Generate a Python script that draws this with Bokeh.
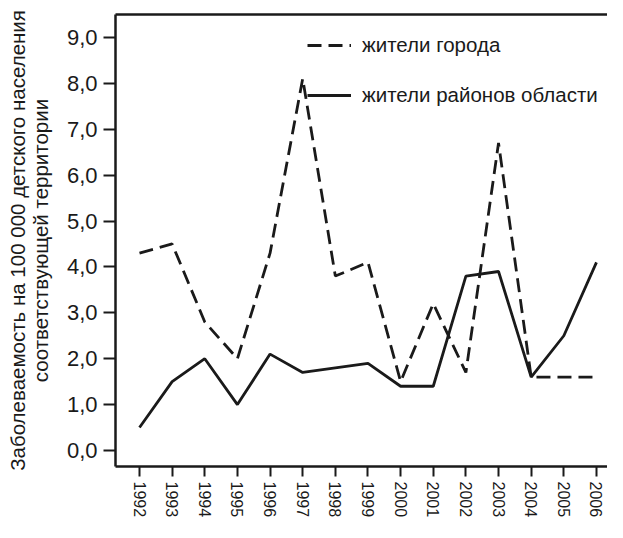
from bokeh.plotting import figure
from bokeh.models import Range1d, FixedTicker, LinearAxis, Legend, LegendItem
from bokeh.embed import file_html
from bokeh.resources import INLINE

years = [1992, 1993, 1994, 1995, 1996, 1997, 1998, 1999, 2000, 2001, 2002, 2003, 2004, 2005, 2006]
city = [4.3, 4.5, 2.8, 2.0, 4.3, 8.1, 3.8, 4.1, 1.5, 3.2, 1.7, 6.7, 1.6, 1.6, 1.6]
rural = [0.5, 1.5, 2.0, 1.0, 2.1, 1.7, 1.8, 1.9, 1.4, 1.4, 3.8, 3.9, 1.6, 2.5, 4.1]
y_ticks = [0, 1, 2, 3, 4, 5, 6, 7, 8, 9]
y_tick_labels = ["0,0", "1,0", "2,0", "3,0", "4,0", "5,0", "6,0", "7,0", "8,0", "9,0"]
series_names = ["жители города", "жители районов области"]
y_title = "Заболеваемость на 100 000 детского населения\nсоответствующей территории"

FONT = "Liberation Sans"
INK = "#1a1a1a"

# layout (pixels)
W, H = 607, 522
FL, FT, FB = 115, 14, 466          # frame left / top / bottom
PX_PER_YEAR = 32.64
PX_PER_UNIT = 45.9
X0_PX = 139                         # pixel of the first year
Y0_PX = 450                         # pixel of value 0

x_start = years[0] - (X0_PX - FL) / PX_PER_YEAR
x_end = x_start + (W - FL) / PX_PER_YEAR
y_start = (Y0_PX - FB) / PX_PER_UNIT
y_end = (Y0_PX - FT) / PX_PER_UNIT

p = figure(width=W, height=H, output_backend="svg", toolbar_location=None,
           x_range=Range1d(x_start, x_end), y_range=Range1d(y_start, y_end),
           min_border_left=FL, min_border_top=FT, min_border_bottom=H - FB, min_border_right=0)
p.grid.visible = False
p.outline_line_color = None
p.background_fill_color = "white"
p.border_fill_color = "white"

r_city = p.line(years, city, line_color=INK, line_width=2.8, line_dash="14 7")
r_rural = p.line(years, rural, line_color=INK, line_width=2.8)

# x axis
xa = p.xaxis[0]
xa.ticker = FixedTicker(ticks=years)
xa.major_label_orientation = "vertical"
xa.major_label_text_font = FONT
xa.major_label_text_font_size = "16px"
xa.major_label_text_color = INK
xa.major_tick_out = 10
xa.major_tick_in = 0
xa.minor_tick_line_color = None
xa.axis_line_width = 2.5
xa.axis_line_color = INK
xa.major_tick_line_width = 2
xa.major_tick_line_color = INK
xa.major_label_standoff = 5

# y axis
ya = p.yaxis[0]
ya.ticker = FixedTicker(ticks=y_ticks)
ya.major_label_overrides = {t: lab for t, lab in zip(y_ticks, y_tick_labels)}
ya.major_label_text_font = FONT
ya.major_label_text_font_size = "22px"
ya.major_label_text_color = INK
ya.major_tick_out = 12
ya.major_tick_in = 0
ya.minor_tick_line_color = None
ya.axis_line_width = 2.5
ya.axis_line_color = INK
ya.major_tick_line_width = 2
ya.major_tick_line_color = INK
ya.major_label_standoff = 6
ya.axis_label = y_title
ya.axis_label_text_font = FONT
ya.axis_label_text_font_size = "20.5px"
ya.axis_label_text_font_style = "normal"
ya.axis_label_text_color = INK
ya.axis_label_text_line_height = 1.0
ya.axis_label_standoff = 12
ya.axis_label_text_align = "center"

# top border line
top = LinearAxis(ticker=FixedTicker(ticks=[]), axis_line_width=2.5, axis_line_color=INK,
                 major_label_text_font_size="0px", major_tick_line_color=None,
                 minor_tick_line_color=None, major_label_standoff=0)
p.add_layout(top, "above")

legend = Legend(items=[LegendItem(label=series_names[0], renderers=[r_city]),
                       LegendItem(label=series_names[1], renderers=[r_rural])],
                location=(192, 358), border_line_color=None, background_fill_alpha=0,
                label_text_font=FONT, label_text_font_size="20.5px", label_text_color=INK,
                glyph_width=44, glyph_height=26, label_height=26, spacing=24,
                padding=0, margin=0, label_standoff=11)
p.add_layout(legend)

open("out.html", "w").write(file_html(p, INLINE))
